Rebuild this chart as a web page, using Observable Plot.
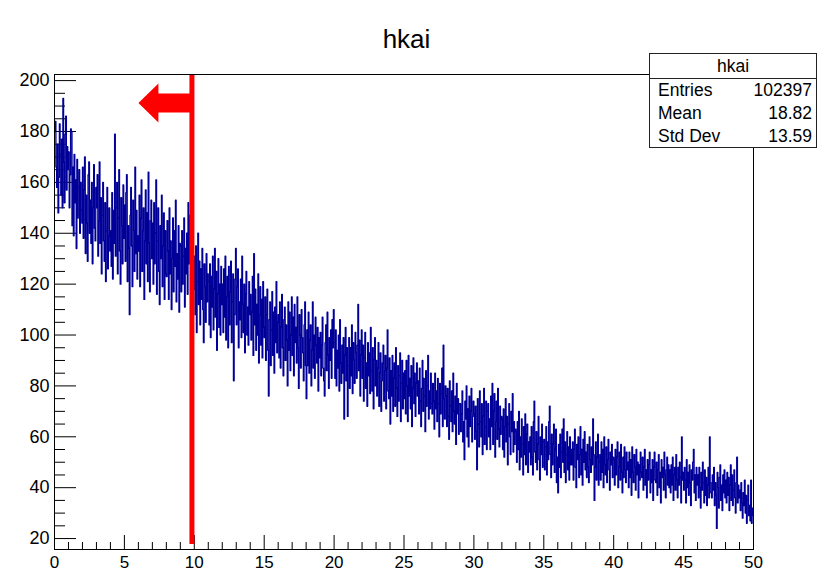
<!DOCTYPE html>
<html><head><meta charset="utf-8">
<script src="https://cdn.jsdelivr.net/npm/d3@7"></script>
<script src="https://cdn.jsdelivr.net/npm/@observablehq/plot@0.6"></script>
<style>
body{margin:0;background:#fff;}
#wrap{position:relative;width:818px;height:573px;font-family:"Liberation Sans",Arial,Helvetica,sans-serif;color:#000;}
#title{position:absolute;left:0;width:813px;top:26px;text-align:center;font-size:26px;line-height:26px;}
#stats{position:absolute;left:649px;top:53px;width:168px;height:95px;box-sizing:border-box;border:1px solid #222;background:#fff;font-size:17.5px;}
#stats .head{height:24px;line-height:24px;text-align:center;border-bottom:1px solid #222;}
#stats .row{display:flex;justify-content:space-between;height:23px;line-height:23px;padding:0 4px 0 8px;}
</style></head>
<body><div id="wrap"><div id="chart"></div><div id="title"></div><div id="stats"></div></div>
<script>
// histogram "hkai": 1000 bins over [0, 50]
const histName = "hkai";
const xMin = 0, xMax = 50;
const counts = [
180,184,166,158,175,148,162,183,171,155,177,150,193,168,152,179,186,157,174,165,
172,150,163,181,180,143,166,139,171,152,161,134,169,146,158,165,140,160,149,144,
166,138,157,170,132,155,144,129,163,168,140,153,136,160,128,150,167,142,137,158,
150,163,131,145,168,136,154,124,147,160,137,129,152,121,141,158,126,139,150,133,
141,127,156,122,149,136,179,131,150,160,124,146,165,133,120,154,143,128,159,138,
151,129,156,163,121,143,134,108,147,158,135,119,153,141,125,166,132,149,122,139,
133,155,119,146,161,125,141,150,114,137,157,128,148,121,164,136,117,145,153,130,
144,120,152,128,140,161,116,137,150,125,112,143,130,155,119,135,148,114,141,124,
123,145,133,114,150,124,137,110,130,146,117,141,127,153,113,132,122,143,109,136,
135,117,141,120,131,146,111,134,124,140,116,152,128,147,139,119,136,143,125,118,
131,108,135,101,121,140,112,129,104,126,114,134,110,97,128,119,105,132,113,124,
121,104,128,99,123,111,131,102,118,134,107,125,94,116,130,103,120,100,127,112,
120,101,126,107,131,98,115,123,95,127,104,117,129,97,113,124,82,108,122,134,
104,119,126,95,113,106,122,99,131,112,101,120,93,116,125,100,111,96,121,108,
116,98,109,123,92,132,104,118,94,112,100,124,89,108,119,96,114,91,121,103,
99,115,90,108,118,94,76,106,113,88,102,117,92,109,85,111,97,121,93,105,
108,91,113,87,103,116,95,84,106,111,90,104,98,80,113,94,109,86,100,115,
92,107,84,112,97,103,89,115,95,79,108,100,87,110,99,93,82,104,113,88,
75,102,88,109,85,98,104,80,94,113,87,100,83,107,96,89,103,78,99,91,
101,84,96,107,87,82,76,97,104,86,109,92,79,99,90,102,83,106,95,110,
97,83,102,80,94,87,100,78,106,89,81,96,85,99,67,92,103,82,95,68,
88,99,79,95,84,104,77,97,90,81,101,93,83,96,112,86,98,76,92,102,
83,96,74,91,101,79,89,72,97,84,93,77,103,86,78,95,71,90,99,80,
90,76,87,97,72,85,93,70,82,89,96,74,86,92,71,87,102,78,75,91,
65,86,76,92,70,83,89,72,95,79,68,88,74,84,93,66,81,90,71,85,
75,86,69,90,80,66,92,76,83,71,88,64,79,91,73,85,68,81,89,76,
82,69,87,74,64,79,90,70,83,76,62,86,72,80,92,67,78,71,85,73,
69,81,74,63,85,71,78,66,83,73,60,81,69,77,87,64,96,75,67,80,
76,64,79,68,59,82,72,66,78,62,85,70,65,76,57,81,69,75,61,73,
73,62,69,78,58,66,51,74,67,80,60,71,56,76,64,70,79,58,68,74,
69,59,72,62,47,75,65,56,78,66,60,73,53,68,79,57,64,74,55,70,
73,60,67,55,76,64,81,57,70,77,52,66,74,59,79,63,56,72,61,68,
67,55,71,52,64,75,58,68,49,65,73,60,53,70,62,77,54,66,57,63,
62,50,66,55,70,47,60,52,67,57,45,64,53,69,49,61,65,46,58,54,
60,49,64,52,45,66,74,54,50,62,47,57,68,51,43,60,53,65,48,58,
59,47,56,64,45,58,51,66,72,53,44,61,49,57,65,46,55,63,42,52,
38,57,48,61,44,54,63,50,67,46,58,42,53,62,47,56,43,60,49,55,
49,58,43,55,63,48,40,57,51,60,44,53,64,45,55,41,59,50,62,47,
54,44,57,48,42,60,51,46,56,49,67,53,35,48,58,43,52,61,41,50,
53,43,58,46,55,40,60,49,45,56,42,51,59,47,39,54,49,57,44,52,
51,41,55,45,52,58,40,48,54,43,57,46,38,52,44,56,47,42,54,47,
50,40,54,44,51,37,56,46,42,53,48,39,55,45,50,36,49,43,54,46,
44,52,39,48,55,41,47,36,51,43,49,54,38,47,42,51,35,48,54,43,
42,50,37,47,53,40,46,34,51,44,48,39,54,45,36,47,52,41,49,40,
47,38,49,41,52,35,45,48,39,53,43,36,48,41,50,44,34,60,43,46,
39,48,43,34,51,40,46,37,49,42,33,47,43,50,55,38,45,35,48,41,
45,36,48,40,32,46,39,50,42,34,47,37,44,33,41,48,36,60,42,38,
36,45,39,48,33,42,37,24,46,40,32,44,49,35,41,31,45,38,47,36,
43,34,46,37,44,31,41,49,35,45,33,39,47,36,30,42,52,34,41,36,
39,31,42,34,28,38,33,43,30,37,26,35,41,29,33,27,43,26,32,29
];
// stats box
const statLabels = ["Entries", "Mean", "Std Dev"];
const statValues = ["102397", "18.82", "13.59"];
// axes
const xTickLabels = [0, 5, 10, 15, 20, 25, 30, 35, 40, 45, 50];
const xMinorTicks = [1,2,3,4,6,7,8,9,11,12,13,14,16,17,18,19,21,22,23,24,26,27,28,29,31,32,33,34,36,37,38,39,41,42,43,44,46,47,48,49];
const yTickLabels = [20, 40, 60, 80, 100, 120, 140, 160, 180, 200];
const yMinorTicks = [25,30,35,45,50,55,65,70,75,85,90,95,105,110,115,125,130,135,145,150,155,165,170,175,185,190,195];
const yDomain = [15.7, 202.4];
// annotation: cut line and arrow
const cutX = [9.83];

const binW = (xMax - xMin) / counts.length;
const hist = counts.map((v, i) => ({x: xMin + i * binW, v}));
hist.push({x: xMax, v: counts[counts.length - 1]});

const W = 818, H = 573, mL = 54, mR = 65, mT = 74, mB = 24;
const pw = W - mL - mR, ph = H - mT - mB;

const blockArrow = {
  draw(ctx) {
    ctx.moveTo(-53.5, 0);
    ctx.lineTo(-33.5, -19.5);
    ctx.lineTo(-33.5, -9.5);
    ctx.lineTo(0, -9.5);
    ctx.lineTo(0, 9.5);
    ctx.lineTo(-33.5, 9.5);
    ctx.lineTo(-33.5, 19.5);
    ctx.closePath();
  }
};

const chart = Plot.plot({
  width: W, height: H,
  marginLeft: mL, marginRight: mR, marginTop: mT, marginBottom: mB,
  x: {domain: [xMin, xMax], label: null},
  y: {domain: yDomain, label: null},
  style: {fontFamily: "'Liberation Sans', Arial, Helvetica, sans-serif", background: "#fff", color: "#000", fontSize: "18px"},
  marks: [
    Plot.axisX(xTickLabels, {tickSize: 0, tickPadding: 6, fontSize: 17, label: null}),
    Plot.axisY(yTickLabels, {tickSize: 0, tickPadding: 5, fontSize: 18, label: null}),
    Plot.ruleX(xTickLabels, {x: d => d, insetTop: ph - 14, stroke: "#000"}),
    Plot.ruleX(xMinorTicks, {x: d => d, insetTop: ph - 7, stroke: "#000"}),
    Plot.ruleY(yTickLabels, {y: d => d, insetRight: pw - 22, stroke: "#000"}),
    Plot.ruleY(yMinorTicks, {y: d => d, insetRight: pw - 11, stroke: "#000"}),
    Plot.line(hist, {x: "x", y: "v", curve: "step-after", stroke: "#000099", strokeWidth: 1.3}),
    Plot.ruleX(cutX, {x: d => d, stroke: "#ff0000", strokeWidth: 5, insetBottom: 5}),
    Plot.dot(cutX, {x: d => d, frameAnchor: "top", dy: 28.5, symbol: blockArrow, fill: "#ff0000", stroke: "none"}),
    Plot.frame({stroke: "#000"})
  ]
});
document.getElementById("chart").appendChild(chart);
document.getElementById("title").textContent = histName;
const st = document.getElementById("stats");
st.innerHTML = `<div class="head">${histName}</div>` +
  statLabels.map((l, i) => `<div class="row"><span>${l}</span><span>${statValues[i]}</span></div>`).join("");
</script>
</body></html>
